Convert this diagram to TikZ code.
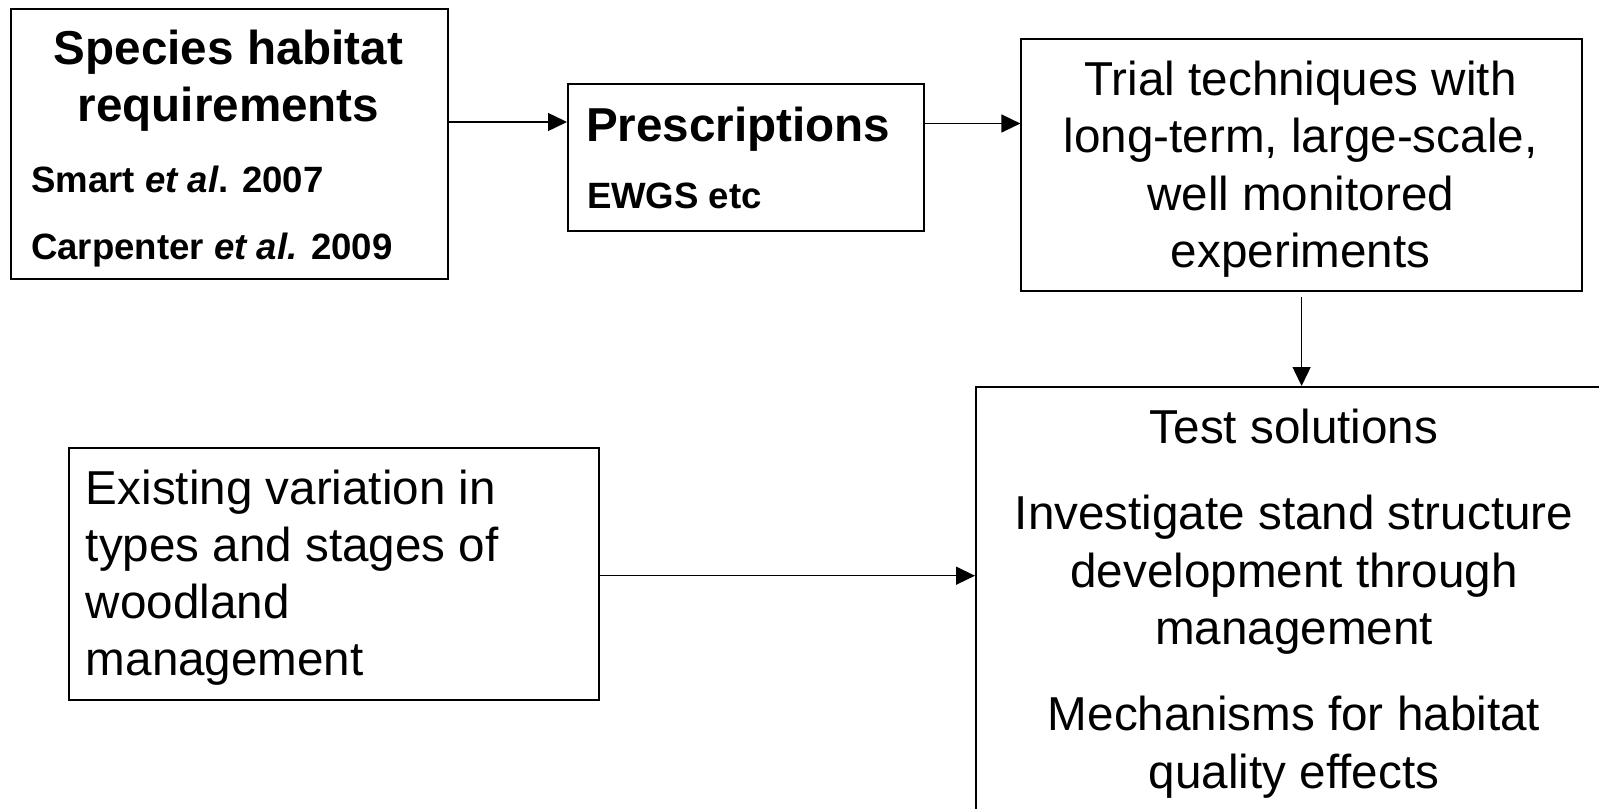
\documentclass[tikz,border=0pt]{standalone}
\usepackage{fontspec}
\setmainfont{Liberation Sans}
\usetikzlibrary{arrows.meta}
\begin{document}
\begin{tikzpicture}[x=0.5pt,y=-0.5pt]
\tikzset{
 box/.style={draw, line width=1pt, inner sep=0pt, anchor=north west},
 txt/.style={inner sep=0pt, anchor=base},
 txtl/.style={inner sep=0pt, anchor=base west},
 arr/.style={-{Triangle[length=9.5pt,width=9pt]}, line width=0.7pt},
 big/.style={font=\fontsize{23.8}{28.6}\selectfont},
 bigb/.style={font=\fontsize{23.8}{28.6}\selectfont\bfseries},
 smb/.style={font=\fontsize{18.3}{22}\selectfont\bfseries},
}
\useasboundingbox (0,0) rectangle (1599,808);
\clip (0,0) rectangle (1599,808);
% boxes
\node[box, minimum width=218.5pt, minimum height=135pt] (b1) at (10,8) {};
\node[box, minimum width=178.2pt, minimum height=73.4pt] (b2) at (567,83.3) {};
\node[box, minimum width=280.2pt, minimum height=126.2pt] (b3) at (1020.4,37.7) {};
\node[box, minimum width=325pt, minimum height=222pt] (b4) at (975,386) {};
\node[box, minimum width=265pt, minimum height=126.2pt] (b5) at (67.6,446.7) {};
% texts
\node[bigb, txt] (t1a) at (228.5,65) {Species habitat};
\node[bigb, txt] (t1b) at (228.5,121.7) {requirements};
\node[smb, txtl] (t1c) at (30.8,192.7) {Smart \textit{et al}. 2007};
\node[smb, txtl] (t1d) at (30.8,259.3) {Carpenter \textit{et al.} 2009};
\node[bigb, txtl] (t2a) at (585.7,141.7) {Prescriptions};
\node[smb, txtl] (t2b) at (586.6,208.3) {EWGS etc};
\node[big, txt] (t3) at (1300.6,95.7) {\parbox[t]{300pt}{\centering Trial techniques with\\ long-term, large-scale,\\ well monitored\\ experiments}};
\node[big, txt] (t4) at (1294,443.3) {\parbox[t]{320pt}{\centering Test solutions\par\vspace{14.7pt}Investigate stand structure\\ development through\\ management\par\vspace{14.7pt}Mechanisms for habitat\\ quality effects}};
\node[big, txtl] (t5) at (85.5,504) {\parbox[t]{250pt}{\raggedright Existing variation in\\ types and stages of\\ woodland\\ management}};
% connectors
\draw[arr] (b1.east |- 0,122) -- (b2.west |- 0,122);
\draw[arr] (b2.east |- 0,123.5) -- (b3.west |- 0,123.5);
\draw[arr] ([yshift=-2.5pt]b3.south) -- (b3.south |- b4.north);
\draw[arr] (b5.east |- 0,575.7) -- (b4.west |- 0,575.7);
\end{tikzpicture}
\end{document}
